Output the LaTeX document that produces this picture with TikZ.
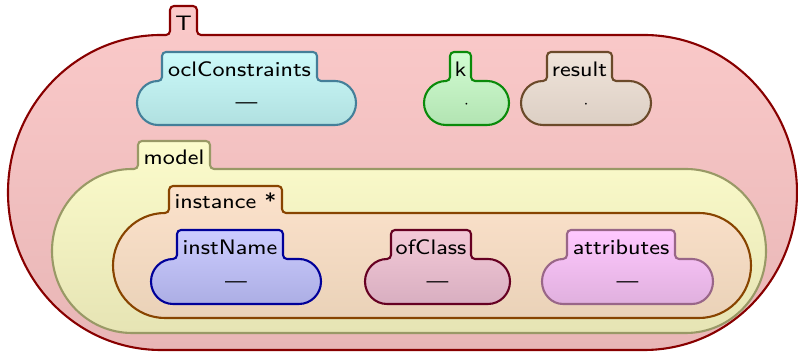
\documentclass[tikz,border=0pt]{standalone}
\usepackage{fontspec}
\setsansfont{lmsans8-regular.otf}[FakeStretch=1.08]

% outline and fill colours of the cells
\definecolor{tDraw}{HTML}{880000}
\definecolor{tTop}{HTML}{FBCACA}
\definecolor{tBot}{HTML}{E8B6B6}
\definecolor{oclDraw}{HTML}{447F99}
\definecolor{oclTop}{HTML}{CCFAFA}
\definecolor{oclBot}{HTML}{B0E0E0}
\definecolor{kDraw}{HTML}{0A8A0A}
\definecolor{kTop}{HTML}{D2FCD2}
\definecolor{kBot}{HTML}{B2E4B2}
\definecolor{resDraw}{HTML}{6B4A2A}
\definecolor{resTop}{HTML}{F0E4DA}
\definecolor{resBot}{HTML}{DCCFC4}
\definecolor{modDraw}{HTML}{999966}
\definecolor{modTop}{HTML}{FCFCCC}
\definecolor{modBot}{HTML}{E6E4B4}
\definecolor{insDraw}{HTML}{884400}
\definecolor{insTop}{HTML}{FCE2CC}
\definecolor{insBot}{HTML}{EAD2B8}
\definecolor{nameDraw}{HTML}{000099}
\definecolor{nameTop}{HTML}{CCCCFF}
\definecolor{nameBot}{HTML}{ACAEE4}
\definecolor{clsDraw}{HTML}{660022}
\definecolor{clsTop}{HTML}{F4CAD8}
\definecolor{clsBot}{HTML}{D8AEC0}
\definecolor{attDraw}{HTML}{996688}
\definecolor{attTop}{HTML}{FFC8FF}
\definecolor{attBot}{HTML}{E0B0DE}

\tikzset{
  kcell/.style={line width=2.1pt, line join=round},
  cellT/.style={kcell, draw=tDraw, top color=tTop, bottom color=tBot},
  cellOcl/.style={kcell, draw=oclDraw, top color=oclTop, bottom color=oclBot},
  cellK/.style={kcell, draw=kDraw, top color=kTop, bottom color=kBot},
  cellRes/.style={kcell, draw=resDraw, top color=resTop, bottom color=resBot},
  cellModel/.style={kcell, draw=modDraw, top color=modTop, bottom color=modBot},
  cellInst/.style={kcell, draw=insDraw, top color=insTop, bottom color=insBot},
  cellName/.style={kcell, draw=nameDraw, top color=nameTop, bottom color=nameBot},
  cellClass/.style={kcell, draw=clsDraw, top color=clsTop, bottom color=clsBot},
  cellAttr/.style={kcell, draw=attDraw, top color=attTop, bottom color=attBot},
  klabel/.style={font=\sffamily\fontsize{21}{25}\selectfont, anchor=base, inner sep=0pt},
  kval/.style={font=\sffamily\fontsize{19}{23}\selectfont, anchor=base, inner sep=0pt},
}

% a cell: tab on top of a body with rounded ends (values measured from the top edge)
% #1 style, #2/#3 tab left/right, #4 tab top, #5 body top, #6/#7 body left/right,
% #8 body bottom, #9 horizontal radius of the body ends
\newcommand{\kcell}[9]{%
  \path[#1] ({#6+#9},{352-#8})
    arc[start angle=270, end angle=90, x radius=#9pt, y radius={(#8-#5)/2*1pt}]
    -- ({#2-4},{352-#5})
    arc[start angle=270, end angle=360, radius=4pt]
    -- ({#2},{352-#4-4})
    arc[start angle=180, end angle=90, radius=4pt]
    -- ({#3-4},{352-#4})
    arc[start angle=90, end angle=0, radius=4pt]
    -- ({#3},{352-#5+4})
    arc[start angle=180, end angle=270, radius=4pt]
    -- ({#7-#9},{352-#5})
    arc[start angle=90, end angle=-90, x radius=#9pt, y radius={(#8-#5)/2*1pt}]
    -- cycle;}
% tab caption: #1 name, #2/#3 tab left/right, #4 body top, #5 text
\newcommand{\klabel}[5]{\node[klabel] (#1) at ({(#2+#3)/2},{356-#4}) {#5};}
% cell contents: #1 name, #2/#3 body left/right, #4/#5 body top/bottom, #6 text
\newcommand{\kval}[6]{\node[kval] (#1) at ({(#2+#3)/2},{352-(#4+#5)/2-6}) {#6};}

\begin{document}
\begin{tikzpicture}[x=1pt, y=1pt]
\useasboundingbox (0,0) rectangle (798,352);

\kcell{cellT}{170}{197}{6}{35}{8}{797}{350}{153}
\klabel{T-label}{170}{197}{35}{T}

\kcell{cellOcl}{162}{317}{52}{81}{137}{356}{125}{21}
\klabel{ocl-label}{162}{317}{81}{oclConstraints}
\kval{ocl-val}{137}{356}{81}{125}{\textemdash}

\kcell{cellK}{450}{471}{52}{81}{424}{509}{125}{22}
\klabel{k-label}{450}{471}{81}{k}
\kval{k-val}{424}{509}{81}{125}{\ensuremath{\cdot}}

\kcell{cellRes}{547}{612}{52}{81}{521}{651}{125}{22}
\klabel{res-label}{547}{612}{81}{result}
\kval{res-val}{521}{651}{81}{125}{\ensuremath{\cdot}}

\kcell{cellModel}{138}{210}{141}{169}{52}{766}{333}{80}
\klabel{model-label}{138}{210}{169}{model}

\kcell{cellInst}{169}{282}{186}{213}{113}{751}{318}{52}
\klabel{inst-label}{169}{282}{213}{instance *}

\kcell{cellName}{177}{283}{230}{259}{151}{321}{304}{22}
\klabel{name-label}{177}{283}{259}{instName}
\kval{name-val}{151}{321}{259}{304}{\textemdash}

\kcell{cellClass}{391}{471}{230}{259}{365}{510}{304}{22}
\klabel{class-label}{391}{471}{259}{ofClass}
\kval{class-val}{365}{510}{259}{304}{\textemdash}

\kcell{cellAttr}{567}{675}{230}{259}{542}{713}{304}{21}
\klabel{attr-label}{567}{675}{259}{attributes}
\kval{attr-val}{542}{713}{259}{304}{\textemdash}
\end{tikzpicture}
\end{document}
